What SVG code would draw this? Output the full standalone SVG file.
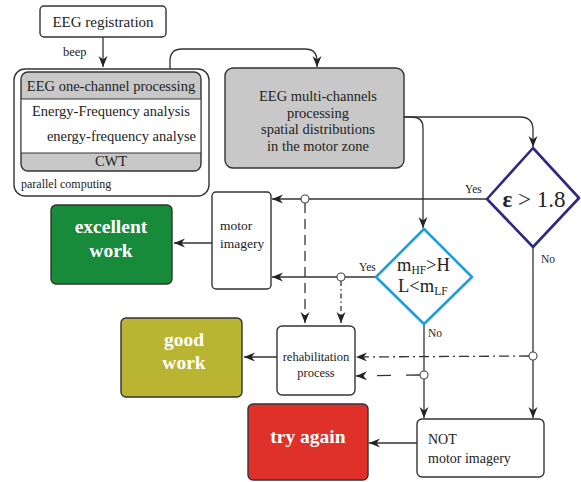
<svg xmlns="http://www.w3.org/2000/svg" width="581" height="482" viewBox="0 0 581 482" font-family="'Liberation Serif', 'DejaVu Serif', 'Times New Roman', serif">
<style>
text{font-family:"Liberation Serif","DejaVu Serif","Times New Roman",serif}
.t{fill:#222}
.w{fill:#fff;font-weight:bold;font-size:19.5px}
.ln{fill:none;stroke:#333;stroke-width:1.3}
.box{stroke:#333;stroke-width:1.4}
.jn{fill:#fff;stroke:#444;stroke-width:1.1}
</style>
<defs>
<marker id="ah" markerUnits="userSpaceOnUse" markerWidth="12" markerHeight="10" refX="11" refY="4.5" orient="auto">
<path d="M0,0 L11,4.5 L0,9 L3.5,4.5 z" fill="#222"/>
</marker>
</defs>
<rect width="581" height="482" fill="#fff"/>

<g id="connectors">
<path class="ln" d="M103,37 L103,67" marker-end="url(#ah)"/>
<path class="ln" d="M170,69 L170,61 Q170,49 182,49 L305,49 Q317,49 317,61 L317,67" marker-end="url(#ah)"/>
<path class="ln" d="M404,117 L520,117 Q533,117 533,130 L533,147" marker-end="url(#ah)"/>
<path class="ln" d="M404,117 L412,117 Q423,117 423,128 L423,228" marker-end="url(#ah)"/>
<path class="ln" d="M487,199 L272,199" marker-end="url(#ah)"/>
<path class="ln" d="M305,203 L305,323" stroke-dasharray="10,6" marker-end="url(#ah)"/>
<path class="ln" d="M376,277 L272,277" marker-end="url(#ah)"/>
<path class="ln" d="M341,281 L341,323" stroke-dasharray="5,3,1.5,3" marker-end="url(#ah)"/>
<path class="ln" d="M212,243 L174,243" marker-end="url(#ah)"/>
<path class="ln" d="M277,357 L244,357" marker-end="url(#ah)"/>
<path class="ln" d="M533,247 L533,418" marker-end="url(#ah)"/>
<path class="ln" d="M529,356 L356,357" stroke-dasharray="10,4,2,4" marker-end="url(#ah)"/>
<path class="ln" d="M424,324 L424,418" marker-end="url(#ah)"/>
<path class="ln" d="M420,375 L356,376" stroke-dasharray="14,15" marker-end="url(#ah)"/>
<path class="ln" d="M417,443 L369,443" marker-end="url(#ah)"/>
<circle class="jn" cx="305" cy="199" r="4"/>
<circle class="jn" cx="341" cy="277" r="4"/>
<circle class="jn" cx="533" cy="356" r="4"/>
<circle class="jn" cx="424" cy="375" r="4"/>
<text class="t" x="63" y="56" font-size="12.5">beep</text>
<text class="t" x="465" y="193" font-size="11.5">Yes</text>
<text class="t" x="359" y="271" font-size="11.5">Yes</text>
<text class="t" x="541" y="263" font-size="11.5">No</text>
<text class="t" x="428" y="337" font-size="11.5">No</text>
</g>

<g id="eeg-registration">
<rect class="box" x="40" y="6" width="126" height="31" rx="4" fill="#fff"/>
<text class="t" x="103" y="27" font-size="15" text-anchor="middle">EEG registration</text>
</g>

<g id="parallel-computing">
<rect class="box" x="14" y="69" width="195" height="127" rx="11" fill="#fff"/>
<rect class="box" x="21" y="72" width="180" height="99" rx="7" fill="#c8c8c8"/>
<rect x="21.7" y="99" width="178.6" height="54" fill="#fff"/>
<line x1="21" y1="99" x2="201" y2="99" stroke="#333" stroke-width="1.2"/>
<line x1="21" y1="153" x2="201" y2="153" stroke="#333" stroke-width="1.2"/>
<text class="t" x="111" y="91" font-size="14.5" text-anchor="middle">EEG one-channel processing</text>
<text class="t" x="111" y="116" font-size="14.5" text-anchor="middle">Energy-Frequency analysis</text>
<text class="t" x="196" y="141" font-size="14.5" text-anchor="end">energy-frequency analyse</text>
<text class="t" x="111" y="166" font-size="14.5" text-anchor="middle">CWT</text>
<text class="t" x="21" y="188" font-size="12">parallel computing</text>
</g>

<g id="eeg-multi">
<rect class="box" x="225" y="68" width="179" height="100" rx="8" fill="#c8c8c8"/>
<text class="t" font-size="14.5" text-anchor="middle"><tspan x="318" y="101">EEG multi-channels</tspan><tspan x="318" y="118">processing</tspan><tspan x="318" y="134">spatial distributions</tspan><tspan x="318" y="151">in the motor zone</tspan></text>
</g>

<g id="epsilon-decision">
<path d="M533,148 L579,198 L533,247 L487,199 z" fill="#fff" stroke="#2e2a80" stroke-width="2.6" stroke-linejoin="round"/>
<text class="t" x="534" y="207" font-size="23" text-anchor="middle"><tspan font-weight="bold">ε</tspan> &gt; 1.8</text>
</g>

<g id="m-decision">
<path d="M424,229 L472,277 L424,324 L376,277 z" fill="#fff" stroke="#1e9fdc" stroke-width="2.6" stroke-linejoin="round"/>
<text class="t" x="397" y="271" font-size="18.5">m<tspan font-size="11.5" dy="3">HF</tspan><tspan dy="-3">&gt;H</tspan></text>
<text class="t" x="398" y="292" font-size="18.5">L&lt;m<tspan font-size="11.5" dy="3">LF</tspan></text>
</g>

<g id="motor-imagery">
<rect class="box" x="212" y="192" width="59" height="97" rx="4" fill="#fff"/>
<text class="t" font-size="13.5"><tspan x="220" y="230">motor</tspan><tspan x="220" y="248">imagery</tspan></text>
</g>

<g id="excellent-work">
<rect class="box" x="51" y="205" width="121" height="79" rx="5" fill="#178b3a"/>
<text class="w" text-anchor="middle"><tspan x="111" y="233">excellent</tspan><tspan x="111" y="257">work</tspan></text>
</g>

<g id="rehabilitation">
<rect class="box" x="277" y="326" width="78" height="69" rx="5" fill="#fff"/>
<text class="t" font-size="12.5" text-anchor="middle"><tspan x="316" y="361">rehabilitation</tspan><tspan x="316" y="377">process</tspan></text>
</g>

<g id="good-work">
<rect class="box" x="121" y="318" width="121" height="79" rx="5" fill="#b9b431"/>
<text class="w" text-anchor="middle"><tspan x="184" y="346">good</tspan><tspan x="184" y="369">work</tspan></text>
</g>

<g id="not-motor-imagery">
<rect class="box" x="417" y="419" width="127" height="58" rx="5" fill="#fff"/>
<text class="t" font-size="14"><tspan x="428" y="444">NOT</tspan><tspan x="428" y="463">motor imagery</tspan></text>
</g>

<g id="try-again">
<rect class="box" x="248" y="404" width="120" height="76" rx="5" fill="#e0302a"/>
<text class="w" x="308" y="443" text-anchor="middle">try again</text>
</g>
</svg>
